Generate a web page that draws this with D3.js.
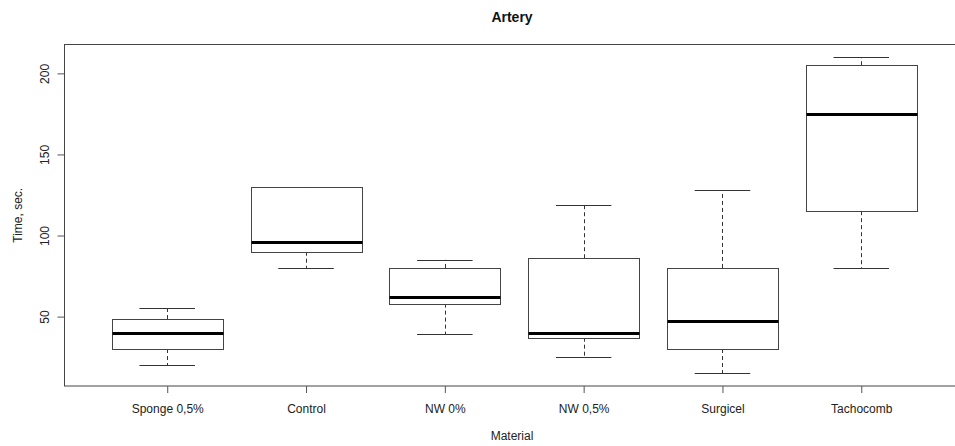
<!DOCTYPE html>
<html>
<head>
<meta charset="utf-8">
<script src="https://cdn.jsdelivr.net/npm/d3@7"></script>
<style>
  body { margin: 0; background: #fff; }
  svg { display: block; font-family: "Liberation Sans", Arial, sans-serif; }
</style>
</head>
<body>
<svg id="chart" width="955" height="446"></svg>
<script>
// box stats
var categories = ["Sponge 0,5%", "Control", "NW 0%", "NW 0,5%", "Surgicel", "Tachocomb"];
var lowerWhisker = [20, 80, 39, 25, 15, 80];
var q1 = [30, 90, 58, 37, 30, 115];
var median = [40, 96, 62, 40, 47, 175];
var q3 = [48.5, 130, 80, 86, 80, 205];
var upperWhisker = [55, 130, 85, 119, 128, 210];
var yTicks = [50, 100, 150, 200];

var svg = d3.select("#chart");
var plotLeft = 64.5, plotRight = 964, plotTop = 44.5, plotBottom = 386;

var n = categories.length;
var x = d3.scaleLinear()
  .domain([0.5 - 0.04 * n, n + 0.5 + 0.04 * n])
  .range([plotLeft, plotRight]);

var lo = d3.min(lowerWhisker), hi = d3.max(upperWhisker);
var pad = (hi - lo) * 0.04;
var y = d3.scaleLinear()
  .domain([lo - pad, hi + pad])
  .range([plotBottom, plotTop]);

var boxes = categories.map(function (c, i) {
  return { name: c, pos: i + 1, lw: lowerWhisker[i], q1: q1[i], med: median[i], q3: q3[i], uw: upperWhisker[i] };
});

var halfW = (x(1.4) - x(1)); // box width 0.8
var capW = halfW / 2;

var g = svg.append("g");

// whiskers (dashed)
g.selectAll(".wup").data(boxes).enter().append("line")
  .attr("x1", function (d) { return Math.round(x(d.pos)) + 0.5; })
  .attr("x2", function (d) { return Math.round(x(d.pos)) + 0.5; })
  .attr("y1", function (d) { return y(d.q3); })
  .attr("y2", function (d) { return y(d.uw); })
  .attr("stroke", "#333").attr("stroke-dasharray", "4,3");
g.selectAll(".wlo").data(boxes).enter().append("line")
  .attr("x1", function (d) { return Math.round(x(d.pos)) + 0.5; })
  .attr("x2", function (d) { return Math.round(x(d.pos)) + 0.5; })
  .attr("y1", function (d) { return y(d.q1); })
  .attr("y2", function (d) { return y(d.lw); })
  .attr("stroke", "#333").attr("stroke-dasharray", "4,3");

// staples
g.selectAll(".cup").data(boxes).enter().append("line")
  .attr("x1", function (d) { return x(d.pos) - capW; })
  .attr("x2", function (d) { return x(d.pos) + capW; })
  .attr("y1", function (d) { return Math.round(y(d.uw)) + 0.5; })
  .attr("y2", function (d) { return Math.round(y(d.uw)) + 0.5; })
  .attr("stroke", "#333");
g.selectAll(".clo").data(boxes).enter().append("line")
  .attr("x1", function (d) { return x(d.pos) - capW; })
  .attr("x2", function (d) { return x(d.pos) + capW; })
  .attr("y1", function (d) { return Math.round(y(d.lw)) + 0.5; })
  .attr("y2", function (d) { return Math.round(y(d.lw)) + 0.5; })
  .attr("stroke", "#333");

// boxes
g.selectAll(".box").data(boxes).enter().append("rect")
  .attr("x", function (d) { return Math.round(x(d.pos) - halfW) + 0.5; })
  .attr("width", Math.round(halfW * 2))
  .attr("y", function (d) { return Math.round(y(d.q3)) + 0.5; })
  .attr("height", function (d) { return Math.round(y(d.q1)) - Math.round(y(d.q3)); })
  .attr("fill", "#fff")
  .attr("stroke", "#444");

// medians
g.selectAll(".med").data(boxes).enter().append("line")
  .attr("x1", function (d) { return Math.round(x(d.pos) - halfW) + 0.5; })
  .attr("x2", function (d) { return Math.round(x(d.pos) - halfW) + 0.5 + Math.round(halfW * 2); })
  .attr("y1", function (d) { return Math.round(y(d.med)) + 0.5; })
  .attr("y2", function (d) { return Math.round(y(d.med)) + 0.5; })
  .attr("stroke", "#000").attr("stroke-width", 3);

// frame
svg.append("rect")
  .attr("x", plotLeft).attr("y", plotTop)
  .attr("width", plotRight - plotLeft).attr("height", plotBottom - plotTop)
  .attr("fill", "none").attr("stroke", "#444");

// y axis
var yAxis = svg.append("g")
  .attr("transform", "translate(" + plotLeft + ",0)")
  .call(d3.axisLeft(y).tickValues(yTicks).tickSize(7));
yAxis.select(".domain").remove();
yAxis.selectAll("line").attr("stroke", "#555");
yAxis.selectAll("text")
  .attr("transform", "rotate(-90)")
  .attr("x", 0).attr("y", -16).attr("dy", 0)
  .attr("text-anchor", "middle")
  .attr("fill", "#222")
  .style("font-size", "12px");

// x axis
var xAxis = svg.append("g")
  .attr("transform", "translate(0," + plotBottom + ")")
  .call(d3.axisBottom(x).tickValues(d3.range(1, n + 1))
    .tickFormat(function (d) { return categories[d - 1]; })
    .tickSize(7).tickPadding(11));
xAxis.select(".domain").remove();
xAxis.selectAll("line").attr("stroke", "#555");
xAxis.selectAll("text").attr("fill", "#222").style("font-size", "12px");

// titles
svg.append("text")
  .attr("x", 512).attr("y", 22)
  .attr("text-anchor", "middle")
  .style("font-size", "14px").style("font-weight", "bold")
  .attr("fill", "#111")
  .text("Artery");

svg.append("text")
  .attr("x", 512).attr("y", 440)
  .attr("text-anchor", "middle")
  .style("font-size", "12px")
  .attr("fill", "#222")
  .text("Material");

svg.append("text")
  .attr("transform", "translate(22," + ((plotTop + plotBottom) / 2) + ") rotate(-90)")
  .attr("text-anchor", "middle")
  .style("font-size", "12px")
  .attr("fill", "#222")
  .text("Time, sec.");
</script>
</body>
</html>
